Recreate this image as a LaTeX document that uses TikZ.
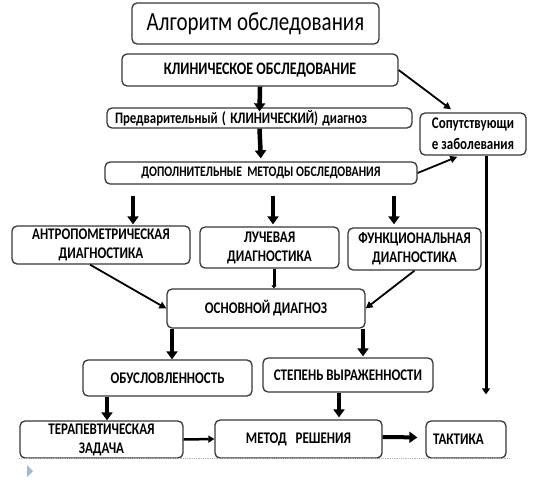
\documentclass[tikz,border=0pt]{standalone}
\usepackage{fontspec}
\setmainfont{Carlito}
\usepackage{graphicx}
\usetikzlibrary{arrows.meta,calc}
\newcommand\vs[1]{\scalebox{1}[1.25]{#1}}
\definecolor{edge}{RGB}{55,55,55}
\definecolor{slidebl}{RGB}{160,185,210}
\begin{document}
\begin{tikzpicture}[x=1pt,y=-1pt,
  box/.style={draw=edge, line width=1.3pt, rounded corners=5pt, fill=white, inner sep=0pt, align=center, font=\fontsize{13}{19}\selectfont\bfseries},
  big/.style={line width=4.5pt, -{Triangle[length=8pt,width=11pt]}},
  mid/.style={line width=3pt, -{Triangle[length=6pt,width=8pt]}},
  thin/.style={line width=1.8pt, -{Triangle[length=7pt,width=7pt]}},
]
\useasboundingbox (0,0) rectangle (536,495);
% nodes
\node[box, minimum width=247, minimum height=41, font=\fontsize{21}{24}\selectfont] (title) at (255.5,23.5) {\vs{Алгоритм обследования}};
\node[box, minimum width=276, minimum height=32, font=\fontsize{14}{19}\selectfont\bfseries] (klin) at (260,70) {\vs{КЛИНИЧЕСКОЕ ОБСЛЕДОВАНИЕ}};
\node[box, text width=289pt, inner xsep=8pt, minimum height=20, align=left, font=\fontsize{12.8}{14}\selectfont\bfseries] (pred) at (259.5,118) {\vs{Предварительный ( КЛИНИЧЕСКИЙ) диагноз}};
\node[box, minimum width=312, minimum height=22, font=\fontsize{11.7}{14}\selectfont\bfseries] (dop) at (261,173) {\vs{ДОПОЛНИТЕЛЬНЫЕ\ \ МЕТОДЫ ОБСЛЕДОВАНИЯ}};
\node[box, minimum width=106, minimum height=42, font=\fontsize{13}{21}\selectfont\bfseries] (sop) at (473,134) {\vs{Сопутствующи}\\\vs{е заболевания}};
\node[box, minimum width=178, minimum height=38] (antro) at (101,245) {\vs{АНТРОПОМЕТРИЧЕСКАЯ}\\\vs{ДИАГНОСТИКА}};
\node[box, minimum width=139, minimum height=41] (luch) at (269.5,247.5) {\vs{ЛУЧЕВАЯ}\\\vs{ДИАГНОСТИКА}};
\node[box, minimum width=133, minimum height=42] (func) at (414.5,249) {\vs{ФУНКЦИОНАЛЬНАЯ}\\\vs{ДИАГНОСТИКА}};
\node[box, minimum width=198, minimum height=39] (osn) at (266,308.5) {\vs{ОСНОВНОЙ ДИАГНОЗ}};
\node[box, minimum width=169, minimum height=36] (obus) at (167.5,378) {\vs{ОБУСЛОВЛЕННОСТЬ}};
\node[box, minimum width=170, minimum height=34] (step) at (348,375) {\vs{СТЕПЕНЬ ВЫРАЖЕННОСТИ}};
\node[box, minimum width=163, minimum height=37] (ter) at (101.5,439.5) {\vs{ТЕРАПЕВТИЧЕСКАЯ}\\\vs{ЗАДАЧА}};
\node[box, minimum width=167, minimum height=38] (met) at (298.5,439) {\vs{МЕТОД\ \ \ РЕШЕНИЯ}};
\node[box, text width=66pt, inner xsep=7pt, minimum height=37, align=left] (tak) at (466,439.5) {\vs{ТАКТИКА}};
% slide artefacts
\draw[slidebl, densely dotted, line width=0.8pt] (ter.south west) -- ([xshift=3pt]tak.south east);
\fill[slidebl] (27,465) -- (33,471) -- (27,477) -- cycle;
% connectors
\draw[big] (klin.south) -- ([yshift=-4pt]pred.north);
\draw[big, shorten >=3pt] (pred.south) -- (dop.north);
\draw[thin, shorten >=5pt] (klin.east) -- ([xshift=-18pt]sop.north);
\draw[thin, shorten >=3pt] (dop.east) -- ([xshift=-13pt]sop.south);
\draw[mid, line width=3pt, shorten >=26pt] ([xshift=13pt]sop.south) -- ([xshift=20pt]tak.north);
\draw[big, shorten <=11pt, shorten >=1pt] ([xshift=-128pt]dop.south) -- ([xshift=32pt]antro.north);
\draw[big, shorten <=11pt, shorten >=2pt] ([xshift=12pt]dop.south) -- ([xshift=3.5pt]luch.north);
\draw[big, shorten <=11pt, shorten >=3pt] ([xshift=133pt]dop.south) -- ([xshift=-20.5pt]func.north);
\draw[thin] ([xshift=-11pt]antro.south) -- (osn.west);
\draw[mid, -{Triangle[length=3pt,width=5pt]}] ([xshift=4.5pt]luch.south) -- ([xshift=8pt]osn.north);
\draw[thin] (func.south) -- (osn.east);
\draw[big] ([xshift=-94pt]osn.south) -- ([xshift=4.5pt]obus.north);
\draw[big, shorten >=1pt] ([xshift=97pt]osn.south) -- ([xshift=15pt]step.north);
\draw[big] ([xshift=-60.5pt]obus.south) -- ([xshift=5.5pt]ter.north);
\draw[big, shorten >=2pt] ([xshift=-9pt]step.south) -- ([xshift=40.5pt]met.north);
\draw[mid, line width=2.5pt, -{Triangle[length=6pt,width=7pt]}] (ter.east) -- (met.west);
\draw[big, line width=4pt, shorten >=8pt] ([yshift=2pt]met.east) -- ([yshift=2pt]tak.west);
\end{tikzpicture}
\end{document}
